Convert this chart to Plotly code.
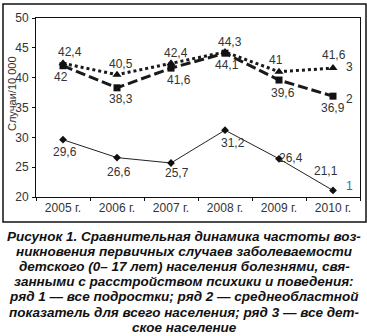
import plotly.graph_objects as go

# Годы наблюдения
years = ["2005 г.", "2006 г.", "2007 г.", "2008 г.", "2009 г.", "2010 г."]

# Случаи на 10 000
series1 = [29.6, 26.6, 25.7, 31.2, 26.4, 21.1]   # все подростки
series2 = [42.0, 38.3, 41.6, 44.1, 39.6, 36.9]   # среднеобластной показатель
series3 = [42.4, 40.5, 42.4, 44.3, 41.0, 41.6]   # все детское население

# Смещения подписей значений (пиксели: вправо, вверх)
offsets1 = [(2, -12), (2, -14), (6, -10), (8, -13), (12, 1), (-7, 19)]
offsets2 = [(-2, -11), (4, -11), (8, -12), (2, -12), (4, -13), (0, -12)]
offsets3 = [(7, 11), (4, 11), (5, 10), (5, 10), (-3, 12), (1, 13)]

caption_lines = [
    "Рисунок 1. Сравнительная динамика частоты воз-",
    "никновения первичных случаев заболеваемости",
    "детского (0– 17 лет) населения болезнями, свя-",
    "занными с расстройством психики и поведения:",
    "ряд 1 — все подростки; ряд 2 — среднеобластной",
    "показатель для всего населения; ряд 3 — все дет-",
    "ское население",
]

FONT = "Liberation Sans, Arial, sans-serif"
TXT = "#333333"

fig = go.Figure()
fig.add_trace(go.Scatter(
    x=years, y=series1, mode="lines+markers",
    line=dict(color="#222222", width=1),
    marker=dict(symbol="diamond", size=6, color="#111111"),
    showlegend=False, cliponaxis=False))
fig.add_trace(go.Scatter(
    x=years, y=series2, mode="lines+markers",
    line=dict(color="#1a1a1a", width=3, dash="10px,4px"),
    marker=dict(symbol="square", size=7, color="#111111"),
    showlegend=False, cliponaxis=False))
fig.add_trace(go.Scatter(
    x=years, y=series3, mode="lines+markers",
    line=dict(color="#1a1a1a", width=3, dash="3px,3px"),
    marker=dict(symbol="triangle-up", size=8, color="#111111"),
    showlegend=False, cliponaxis=False))

annotations = []

def fmt(v):
    s = ("%g" % v)
    return s.replace(".", ",")

for vals, offs in ((series1, offsets1), (series2, offsets2), (series3, offsets3)):
    for yr, v, (dx, dy) in zip(years, vals, offs):
        annotations.append(dict(
            x=yr, y=v, xref="x", yref="y", text=fmt(v), showarrow=False,
            xshift=dx, yshift=dy, font=dict(family=FONT, size=12, color=TXT)))

# Номера рядов справа
for name, vals, dy, col in (("1", series1, 4, "#2f6db3"),
                            ("2", series2, -3, TXT),
                            ("3", series3, 1, TXT)):
    annotations.append(dict(
        x=years[-1], y=vals[-1], xref="x", yref="y", text=name, showarrow=False,
        xshift=16, yshift=dy, font=dict(family=FONT, size=12, color=col)))

# Подпись оси Y
annotations.append(dict(
    x=(12 - 36) / 324, y=(197 - 94) / 179, xref="paper", yref="paper",
    text="Случаи/10 000", textangle=-90, showarrow=False,
    xanchor="center", yanchor="middle",
    font=dict(family=FONT, size=11, color=TXT)))

# Подпись к рисунку
top_px = 236
step_px = 15.2
for i, line in enumerate(caption_lines):
    py = top_px + i * step_px
    annotations.append(dict(
        x=(184 - 36) / 324, y=(197 - py) / 179, xref="paper", yref="paper",
        text="<b><i>%s</i></b>" % line, showarrow=False,
        xanchor="center", yanchor="middle",
        font=dict(family=FONT, size=13.5, color="#111111")))

fig.update_layout(
    width=367, height=336,
    margin=dict(l=36, r=7, t=18, b=139),
    paper_bgcolor="white", plot_bgcolor="white",
    annotations=annotations,
    shapes=[dict(type="rect", xref="paper", yref="paper",
                 x0=(3 - 36) / 324, x1=(366 - 36) / 324,
                 y0=(197 - 222) / 179, y1=(197 - 4) / 179,
                 line=dict(color="#111111", width=1.5))],
)
fig.update_xaxes(
    type="category", range=[-0.5, 5.5], tickson="boundaries",
    ticks="outside", ticklen=3, tickcolor="#111111",
    showline=True, linecolor="#111111", linewidth=1, mirror=True,
    showgrid=False, tickfont=dict(family=FONT, size=12, color=TXT))
fig.update_yaxes(
    range=[20, 50], dtick=5, ticks="outside", ticklen=3, tickcolor="#111111",
    showline=True, linecolor="#111111", linewidth=1, mirror=True,
    showgrid=False, zeroline=False, ticklabelstandoff=1,
    tickfont=dict(family=FONT, size=12, color=TXT))

fig.write_html("out.html")
